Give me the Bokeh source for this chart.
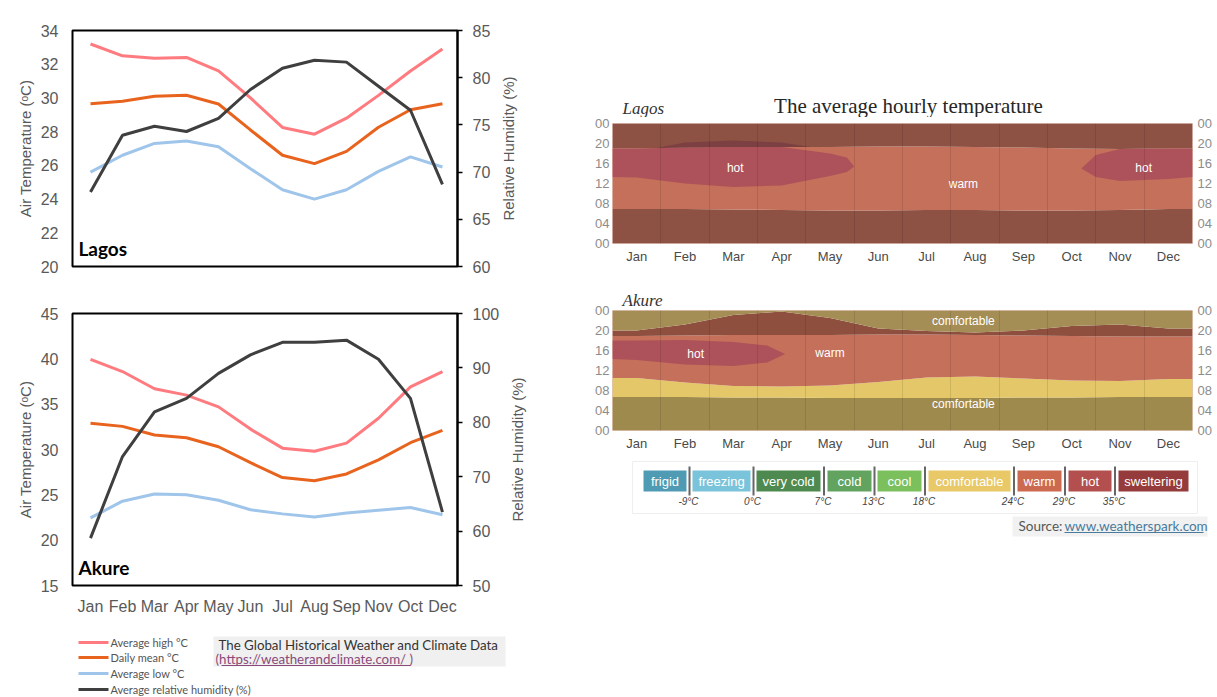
import math
from bokeh.plotting import figure
from bokeh.layouts import row, column
from bokeh.models import Range1d, LinearAxis, FixedTicker, Label
from bokeh.embed import file_html
from bokeh.resources import INLINE
from bokeh.core.properties import value

# ---------------- data: monthly climate lines ----------------
MONTHS = ["Jan", "Feb", "Mar", "Apr", "May", "Jun", "Jul", "Aug", "Sep", "Oct", "Nov", "Dec"]
AKURE_XLABELS = ["Jan", "Feb", "Mar", "Apr", "May", "Jun", "Jul", "Aug", "Sep", "Nov", "Oct", "Dec"]

lagos_high = [33.2, 32.5, 32.35, 32.4, 31.6, 30.0, 28.25, 27.85, 28.8, 30.15, 31.6, 32.9]
lagos_mean = [29.66, 29.8, 30.1, 30.16, 29.64, 28.1, 26.6, 26.1, 26.83, 28.26, 29.3, 29.66]
lagos_low = [25.6, 26.6, 27.3, 27.45, 27.1, 25.8, 24.55, 24.0, 24.55, 25.64, 26.5, 25.9]
lagos_rh = [67.9, 73.9, 74.85, 74.3, 75.7, 78.75, 81.0, 81.85, 81.65, 79.1, 76.55, 68.7]

akure_high = [39.95, 38.6, 36.7, 36.0, 34.7, 32.25, 30.15, 29.8, 30.7, 33.45, 36.9, 38.6]
akure_mean = [32.9, 32.55, 31.6, 31.3, 30.3, 28.55, 26.9, 26.55, 27.3, 28.85, 30.75, 32.1]
akure_low = [22.45, 24.3, 25.1, 25.0, 24.4, 23.35, 22.9, 22.55, 23.0, 23.3, 23.6, 22.8]
akure_rh = [58.7, 73.7, 81.9, 84.4, 89.0, 92.4, 94.7, 94.7, 95.1, 91.6, 84.4, 63.5]

SERIES_NAMES = ["Average high \u00b0C", "Daily mean \u00b0C", "Average low \u00b0C", "Average relative humidity (%)"]

# ---------------- data: hourly temperature bands (hour of day, per month) ----------------
HOUR_TICKS = [0, 4, 8, 12, 16, 20, 24]
HOUR_LABELS = ["00", "04", "08", "12", "16", "20", "00"]

lagos_sunrise = [6.9, 6.9, 6.8, 6.7, 6.6, 6.6, 6.7, 6.7, 6.6, 6.6, 6.7, 6.9]
lagos_sunset = [19.0, 19.2, 19.3, 19.3, 19.3, 19.4, 19.4, 19.3, 19.2, 19.0, 18.9, 19.0]
lagos_hot_a_x = [0, 0.5, 1.5, 2.5, 3.5, 4.5, 4.85, 5.0]
lagos_hot_a_lo = [13.3, 13.2, 12.0, 11.3, 11.6, 13.5, 14.3, 15.4]
lagos_hot_a_hi = [19.0, 19.0, 19.2, 19.3, 19.3, 18.0, 17.2, 15.4]
lagos_hot_b_x = [9.7, 10.0, 10.5, 11.5, 12.0]
lagos_hot_b_lo = [15.0, 13.3, 12.5, 12.9, 13.3]
lagos_hot_b_hi = [15.0, 17.7, 18.9, 19.0, 19.0]
lagos_hotnight_x = [0.9, 1.5, 2.5, 3.5, 4.1]
lagos_hotnight_lo = [19.1, 19.2, 19.3, 19.3, 19.3]
lagos_hotnight_hi = [19.1, 20.2, 20.6, 20.2, 19.3]

akure_sunrise = [6.7, 6.7, 6.6, 6.6, 6.5, 6.5, 6.5, 6.5, 6.6, 6.6, 6.7, 6.7]
akure_warm_start = [10.5, 9.6, 8.9, 8.8, 9.0, 9.7, 10.6, 10.8, 10.4, 10.0, 9.9, 10.3]
akure_sunset = [18.9, 19.0, 19.1, 19.1, 19.1, 19.2, 19.2, 19.1, 19.0, 18.9, 18.8, 18.8]
akure_warm_night_end = [20.0, 21.2, 23.1, 23.8, 22.5, 20.4, 19.9, 19.6, 20.0, 20.9, 21.2, 20.4]
akure_hot_x = [0, 0.5, 1.5, 2.5, 3.2, 3.57]
akure_hot_lo = [14.3, 14.1, 13.2, 12.9, 13.6, 15.3]
akure_hot_hi = [18.0, 18.0, 18.1, 17.7, 17.0, 15.3]

lagos_band_text = ["hot", "warm", "hot"]
lagos_band_text_x = [2.54, 7.26, 10.99]
lagos_band_text_y = [15.2, 12.0, 15.2]
akure_band_text = ["comfortable", "hot", "warm", "comfortable"]
akure_band_text_x = [7.26, 1.72, 4.5, 7.26]
akure_band_text_y = [22.0, 15.4, 15.6, 5.4]

# ---------------- data: temperature legend ----------------
LEGEND_CATS = ["frigid", "freezing", "very cold", "cold", "cool", "comfortable", "warm", "hot", "sweltering"]
THRESH_LABELS = ["-9\u00b0C", "0\u00b0C", "7\u00b0C", "13\u00b0C", "18\u00b0C", "24\u00b0C", "29\u00b0C", "35\u00b0C"]

# ---------------- styles / layout ----------------
C_HIGH, C_MEAN, C_LOW, C_RH = "#ff7b7f", "#e8641e", "#9fc5ea", "#3f3f3f"
SERIES_COLORS = [C_HIGH, C_MEAN, C_LOW, C_RH]
LEGEND_COLORS = ["#4f9bb3", "#7ac4db", "#4e8a4f", "#62a35f", "#7cbf5d", "#e8c867", "#cc6a50", "#b44f4f", "#953b3b"]
NIGHT_WARM, DAY_WARM, HOT, HOT_NIGHT = "#8d5243", "#c4705a", "#ad525a", "#7c4043"
AK_OLIVE_TOP, AK_OLIVE_BOT, AK_YELLOW, AK_WARM_NIGHT = "#a58e55", "#9f8a4d", "#e4c768", "#8e4f3f"
SANS = "Liberation Sans"
SERIF = "Liberation Serif"
GRAY = "#595959"

LEFT_W, RIGHT_W = 544, 673
LEG_BOX_LEFT = [643, 692, 756, 827, 877, 928, 1017, 1068, 1118]
LEG_BOX_RIGHT = [686, 750, 820, 871, 921, 1010, 1061, 1111, 1188]
LEG_ROWS_Y = [642, 657, 673, 689]


def blank(width, height, x0, y0, btop=0, bbottom=0):
    """A figure without axes whose data coordinates equal page pixels inside its frame."""
    p = figure(width=width, height=height, x_range=Range1d(x0, x0 + width),
               y_range=Range1d(y0 + height - bbottom, y0 + btop),
               output_backend="svg", toolbar_location=None, title=None,
               x_axis_location=None, y_axis_location=None,
               min_border_left=0, min_border_right=0, min_border_top=btop, min_border_bottom=bbottom)
    p.grid.visible = False
    p.outline_line_color = None
    return p


def line_chart(width, height, btop, bbottom, t_lo, t_hi, t_step, r_lo, r_hi, r_step,
               high, mean, low, rh, city, xlabels):
    p = figure(width=width, height=height, x_range=Range1d(-0.5625, 11.47), y_range=Range1d(t_lo, t_hi),
               output_backend="svg", toolbar_location=None, title=None,
               min_border_left=72, min_border_right=width - 457, min_border_top=btop, min_border_bottom=bbottom)
    p.extra_y_ranges = {"rh": Range1d(r_lo, r_hi)}
    x = list(range(12))
    p.line(x, high, color=C_HIGH, line_width=3)
    p.line(x, mean, color=C_MEAN, line_width=3)
    p.line(x, low, color=C_LOW, line_width=3)
    p.line(x, rh, color=C_RH, line_width=3, y_range_name="rh")
    p.grid.visible = False
    p.outline_line_color = "black"
    p.outline_line_width = 2
    p.outline_line_alpha = 1

    ya = p.yaxis[0]
    ya.ticker = FixedTicker(ticks=list(range(t_lo, t_hi + 1, t_step)))
    ya.axis_label = "Air Temperature (\u1d52C)"
    ya.axis_line_color = None
    ya.major_tick_line_color = None
    ya.minor_tick_line_color = None
    ya.major_tick_out = 0
    ya.major_label_standoff = 14
    ya.major_label_text_font = SANS
    ya.major_label_text_font_size = "16px"
    ya.major_label_text_color = GRAY
    ya.axis_label_text_font = SANS
    ya.axis_label_text_font_size = "15px"
    ya.axis_label_text_font_style = "normal"
    ya.axis_label_text_color = GRAY
    ya.axis_label_standoff = 4

    ra = LinearAxis(y_range_name="rh", ticker=FixedTicker(ticks=list(range(r_lo, r_hi + 1, r_step))))
    ra.axis_line_color = "black"
    ra.axis_line_width = 2
    ra.major_tick_line_color = "black"
    ra.major_tick_line_width = 1.5
    ra.major_tick_out = 5
    ra.major_tick_in = 0
    ra.minor_tick_line_color = None
    ra.major_label_standoff = 10
    ra.major_label_text_font = SANS
    ra.major_label_text_font_size = "16px"
    ra.major_label_text_color = GRAY
    p.add_layout(ra, "right")

    xa = p.xaxis[0]
    if xlabels is None:
        xa.visible = False
    else:
        xa.ticker = FixedTicker(ticks=x)
        xa.major_label_overrides = {i: lab for i, lab in enumerate(xlabels)}
        xa.axis_line_color = None
        xa.major_tick_line_color = None
        xa.minor_tick_line_color = None
        xa.major_tick_out = 0
        xa.major_label_standoff = 12
        xa.major_label_text_font = SANS
        xa.major_label_text_font_size = "16px"
        xa.major_label_text_color = GRAY

    p.add_layout(Label(x=-0.5625, y=t_lo, x_offset=6, y_offset=7, text=city, text_font="Lato",
                       text_font_style="bold", text_font_size="19px", text_color="black"))
    return p


def rh_title_strip(width, height, x0, y0, btop, bbottom, text_x):
    s = blank(width, height, x0, y0, btop, bbottom)
    s.text(x=[text_x], y=[y0 + btop + (height - btop - bbottom) / 2], text=["Relative Humidity (%)"],
           angle=math.pi / 2, text_font=value(SANS), text_font_size="15px", text_color=GRAY,
           text_align="center", text_baseline="middle")
    return s


def heat_chart(height, btop, bbottom, title=None):
    p = figure(width=RIGHT_W, height=height, x_range=Range1d(0, 12), y_range=Range1d(0, 24),
               output_backend="svg", toolbar_location=None, title=title,
               min_border_left=68, min_border_right=25, min_border_top=btop, min_border_bottom=bbottom)
    p.outline_line_color = "#e2c3b8"
    p.outline_line_width = 1
    p.ygrid.visible = False
    p.xgrid.ticker = FixedTicker(ticks=list(range(1, 12)))
    p.xgrid.grid_line_color = "black"
    p.xgrid.grid_line_alpha = 0.1
    p.xgrid.level = "overlay"

    ya = p.yaxis[0]
    ra = LinearAxis()
    p.add_layout(ra, "right")
    for ax, so in ((ya, 3), (ra, 5)):
        ax.ticker = FixedTicker(ticks=HOUR_TICKS)
        ax.major_label_overrides = {t: l for t, l in zip(HOUR_TICKS, HOUR_LABELS)}
        ax.axis_line_color = None
        ax.major_tick_line_color = None
        ax.minor_tick_line_color = None
        ax.major_tick_out = 0
        ax.major_label_standoff = so
        ax.major_label_text_font = SANS
        ax.major_label_text_font_size = "13px"
        ax.major_label_text_color = "#8c8c8c"

    xa = p.xaxis[0]
    xa.ticker = FixedTicker(ticks=[i + 0.5 for i in range(12)])
    xa.major_label_overrides = {i + 0.5: m for i, m in enumerate(MONTHS)}
    xa.axis_line_color = None
    xa.major_tick_line_color = None
    xa.minor_tick_line_color = None
    xa.major_tick_out = 0
    xa.major_label_standoff = 5
    xa.major_label_text_font = SANS
    xa.major_label_text_font_size = "13px"
    xa.major_label_text_color = "#4a4a4a"
    return p


def ext(vals):
    return [vals[0]] + list(vals) + [vals[-1]]


HX = [0] + [i + 0.5 for i in range(12)] + [12]


def poly(xs, lo, hi):
    return list(xs) + list(xs)[::-1], list(lo) + list(hi)[::-1]


# ---------------- left column ----------------
L1 = line_chart(496, 290, 30, 24, 20, 34, 2, 60, 85, 5, lagos_high, lagos_mean, lagos_low, lagos_rh,
                "Lagos", None)
L1s = rh_title_strip(LEFT_W - 496, 290, 496, 0, 30, 24, 508)
L2 = line_chart(504, 330, 23, 35, 15, 45, 5, 50, 100, 10, akure_high, akure_mean, akure_low, akure_rh,
                "Akure", AKURE_XLABELS)
L2s = rh_title_strip(LEFT_W - 504, 330, 504, 290, 23, 35, 517)

L3 = blank(LEFT_W, 77, 0, 620)
L3.segment(x0=[78] * 4, x1=[108] * 4, y0=LEG_ROWS_Y, y1=LEG_ROWS_Y, line_color=SERIES_COLORS, line_width=3)
L3.text(x=[110] * 4, y=LEG_ROWS_Y, text=SERIES_NAMES, text_font=value("Lato"), text_font_size="11px",
        text_color="#555555", text_baseline="middle")
L3.quad(left=[213], right=[505], top=[636], bottom=[666], fill_color="#f0f0f0", line_color=None)
L3.text(x=[218], y=[644], text=["The Global Historical Weather and Climate Data"], text_font=value("Lato"),
        text_font_size="13.3px", text_color="#333333", text_baseline="middle")
L3.text(x=[215], y=[658], text=["(https://weatherandclimate.com/   )"], text_font=value("Lato"),
        text_font_size="13.3px", text_color="#8a4a7a", text_baseline="middle")
L3.segment(x0=[221], x1=[410], y0=[665], y1=[665], line_color="#8a4a7a", line_width=1)

# ---------------- right column ----------------
R0 = blank(RIGHT_W, 117, 544, 0)
R0.text(x=[908], y=[105], text=["The average hourly temperature"], text_font=value(SERIF),
        text_font_size="21px", text_color="#262626", text_align="center", text_baseline="middle")
R0.text(x=[622], y=[107.5], text=["Lagos"], text_font=value(SERIF), text_font_style="italic",
        text_font_size="17px", text_color="#333333", text_baseline="middle")

R1 = heat_chart(166, 6, 40)
R1.varea(x=HX, y1=[0] * 14, y2=ext(lagos_sunrise), fill_color=NIGHT_WARM)
R1.varea(x=HX, y1=ext(lagos_sunrise), y2=ext(lagos_sunset), fill_color=DAY_WARM)
R1.varea(x=HX, y1=ext(lagos_sunset), y2=[24] * 14, fill_color=NIGHT_WARM)
for xs, lo, hi, col in ((lagos_hot_a_x, lagos_hot_a_lo, lagos_hot_a_hi, HOT),
                        (lagos_hot_b_x, lagos_hot_b_lo, lagos_hot_b_hi, HOT),
                        (lagos_hotnight_x, lagos_hotnight_lo, lagos_hotnight_hi, HOT_NIGHT)):
    px, py = poly(xs, lo, hi)
    R1.patch(px, py, fill_color=col, line_color=None)
R1.text(x=lagos_band_text_x, y=lagos_band_text_y, text=lagos_band_text, text_font=value(SANS),
        text_font_size="12px", text_color="white", text_align="center", text_baseline="middle")

R2 = heat_chart(177, 27, 30, title="Akure")
R2.title.align = "left"
R2.title.offset = 10
R2.title.standoff = 1
R2.title.text_font = SERIF
R2.title.text_font_style = "italic"
R2.title.text_font_size = "17px"
R2.title.text_color = "#333333"
R2.varea(x=HX, y1=[0] * 14, y2=ext(akure_sunrise), fill_color=AK_OLIVE_BOT)
R2.varea(x=HX, y1=ext(akure_sunrise), y2=ext(akure_warm_start), fill_color=AK_YELLOW)
R2.varea(x=HX, y1=ext(akure_warm_start), y2=ext(akure_sunset), fill_color=DAY_WARM)
R2.varea(x=HX, y1=ext(akure_sunset), y2=ext(akure_warm_night_end), fill_color=AK_WARM_NIGHT)
R2.varea(x=HX, y1=ext(akure_warm_night_end), y2=[24] * 14, fill_color=AK_OLIVE_TOP)
px, py = poly(akure_hot_x, akure_hot_lo, akure_hot_hi)
R2.patch(px, py, fill_color=HOT, line_color=None)
R2.text(x=akure_band_text_x, y=akure_band_text_y, text=akure_band_text, text_font=value(SANS),
        text_font_size="12px", text_color="white", text_align="center", text_baseline="middle")

R3 = blank(RIGHT_W, 237, 544, 460)
R3.quad(left=[632], right=[1197], top=[461], bottom=[513], fill_color=None, line_color="#eeeeee")
R3.quad(left=LEG_BOX_LEFT, right=LEG_BOX_RIGHT, top=[470] * 9, bottom=[491] * 9,
        fill_color=LEGEND_COLORS, line_color=None)
box_cx = [(a + b) / 2 for a, b in zip(LEG_BOX_LEFT, LEG_BOX_RIGHT)]
R3.text(x=box_cx, y=[480.5] * 9, text=LEGEND_CATS, text_font=value(SANS), text_font_size="13px",
        text_color="white", text_align="center", text_baseline="middle")
sep_x = [(LEG_BOX_RIGHT[i] + LEG_BOX_LEFT[i + 1]) / 2 for i in range(8)]
R3.segment(x0=sep_x, x1=sep_x, y0=[466] * 8, y1=[495] * 8, line_color="#666666", line_width=2)
R3.text(x=[s - 1 for s in sep_x], y=[501] * 8, text=THRESH_LABELS, text_font=value(SANS),
        text_font_size="10px", text_font_style="italic", text_color="#444444",
        text_align="center", text_baseline="middle")
R3.quad(left=[1012], right=[1207], top=[516], bottom=[536], fill_color="#f1f1f1", line_color=None)
R3.text(x=[1018], y=[525.5], text=["Source:"], text_font=value("Lato"), text_font_size="13.5px",
        text_color="#555555", text_baseline="middle")
R3.text(x=[1064], y=[525.5], text=["www.weatherspark.com"], text_font=value("Lato"), text_font_size="13.5px",
        text_color="#4a7a9c", text_baseline="middle")
R3.segment(x0=[1064], x1=[1203], y0=[532], y1=[532], line_color="#4a7a9c", line_width=1)

left_col = column(row(L1, L1s, spacing=0), row(L2, L2s, spacing=0), row(L3, spacing=0), spacing=0)
right_col = column(row(R0, spacing=0), R1, R2, row(R3, spacing=0), spacing=0)
layout = row(left_col, right_col, spacing=0)
open("out.html", "w").write(file_html(layout, INLINE))
